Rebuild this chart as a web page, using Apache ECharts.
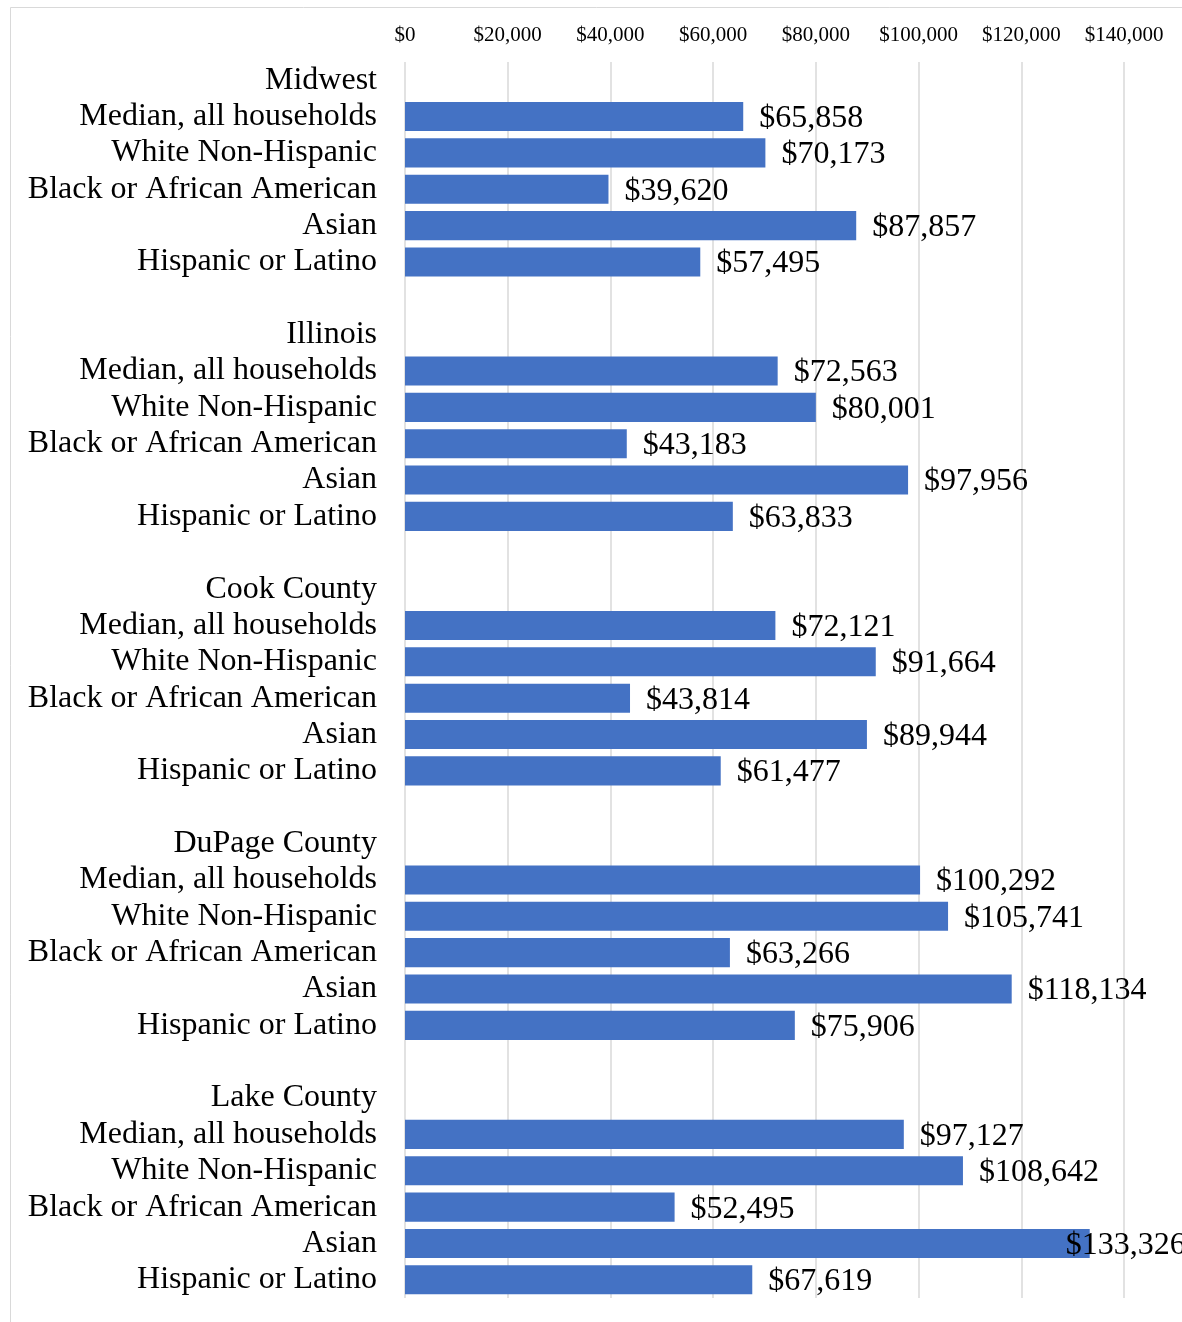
<!DOCTYPE html>
<html><head><meta charset="utf-8">
<script src="https://cdn.jsdelivr.net/npm/echarts@6/dist/echarts.min.js"></script>
<style>html,body{margin:0;padding:0;background:#fff}#c{width:1182px;height:1322px}</style>
</head><body><div id="c"></div>
<script>
const groups = ['Midwest', 'Illinois', 'Cook County', 'DuPage County', 'Lake County'];
const subgroups = ['Median, all households', 'White Non-Hispanic', 'Black or African American', 'Asian', 'Hispanic or Latino'];
const midwest = [65858, 70173, 39620, 87857, 57495];
const illinois = [72563, 80001, 43183, 97956, 63833];
const cook = [72121, 91664, 43814, 89944, 61477];
const dupage = [100292, 105741, 63266, 118134, 75906];
const lake = [97127, 108642, 52495, 133326, 67619];
const tickValues = [0, 20000, 40000, 60000, 80000, 100000, 120000, 140000];

const groupValues = [midwest, illinois, cook, dupage, lake];
const categories = [];
const values = [];
groups.forEach((g, gi) => {
  categories.push(g); values.push(null);
  subgroups.forEach((s, si) => { categories.push(s); values.push(groupValues[gi][si]); });
  if (gi < groups.length - 1) { categories.push(''); values.push(null); }
});
const money = v => '$' + Math.round(v).toLocaleString('en-US');
const maxVal = Math.max(...values.filter(v => v != null));
const seriesData = values.map(v => {
  if (v == null) return '-';
  if (v === maxVal) return { value: v, label: { distance: -24 } };
  return v;
});

const chart = echarts.init(document.getElementById('c'), null, { renderer: 'canvas' });
chart.setOption({
  animation: false,
  backgroundColor: '#fff',
  textStyle: { fontFamily: 'Liberation Serif, Times New Roman, serif' },
  graphic: [{
    type: 'rect', shape: { x: 10.5, y: 7.5, width: 1300, height: 1400 },
    style: { fill: 'none', stroke: '#d9d9d9', lineWidth: 1 }, silent: true, z: -1
  }],
  grid: { left: 405, right: 58, top: 62, bottom: 24, containLabel: false },
  xAxis: {
    type: 'value', position: 'top', min: 0, max: 140000, interval: 20000,
    axisLine: { show: false }, axisTick: { show: false },
    splitLine: { show: true, lineStyle: { color: '#d9d9d9', width: 1.5 } },
    axisLabel: {
      margin: 16, color: '#000', fontSize: 21, fontFamily: 'Liberation Serif',
      formatter: v => tickValues.includes(v) ? money(v) : ''
    }
  },
  yAxis: {
    type: 'category', inverse: true, data: categories,
    axisLine: { show: false }, axisTick: { show: false },
    axisLabel: { margin: 28, color: '#000', fontSize: 32, fontFamily: 'Liberation Serif', interval: 0, padding: [2, 0, 0, 0] }
  },
  series: [{
    type: 'bar', data: seriesData, barCategoryGap: '20%',
    itemStyle: { color: '#4472C4' },
    label: {
      show: true, position: 'right', distance: 16, offset: [0, 2], color: '#000', fontSize: 32,
      fontFamily: 'Liberation Serif', formatter: p => money(p.value)
    }
  }]
});
</script></body></html>
